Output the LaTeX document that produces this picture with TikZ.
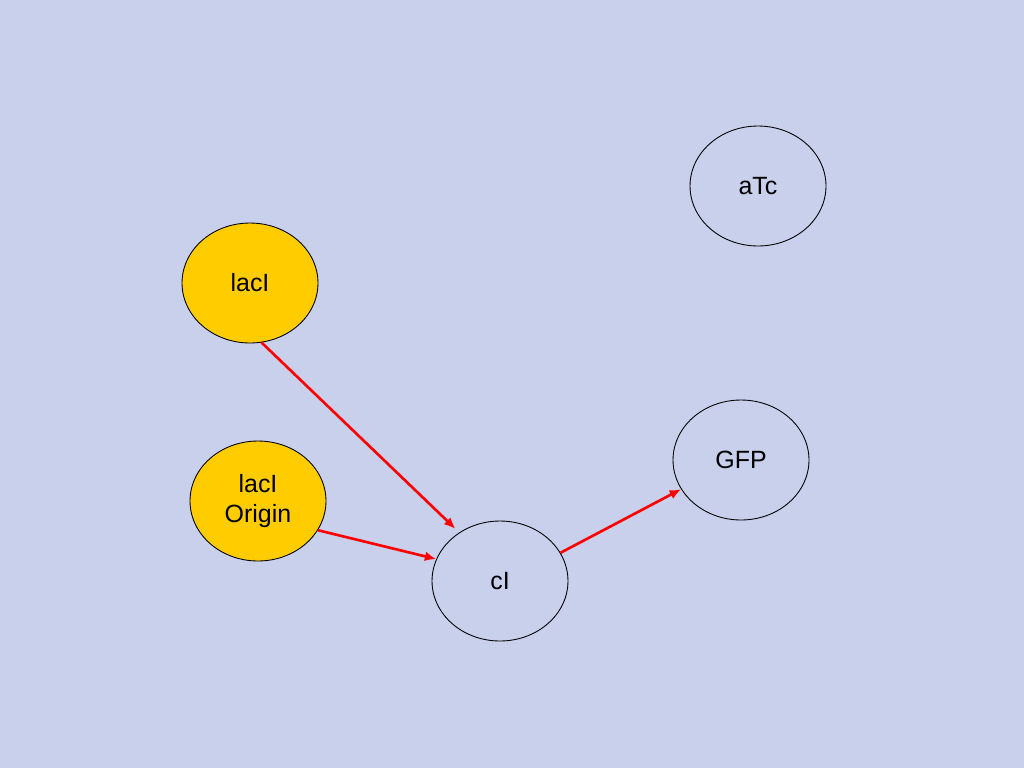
\documentclass[tikz,border=0pt]{standalone}
\usepackage{fontspec}
\setmainfont{Liberation Sans}
\usetikzlibrary{shapes.geometric}
\usetikzlibrary{arrows.meta}
\definecolor{slidebg}{RGB}{200,208,235}
\definecolor{gold}{RGB}{255,204,0}

\begin{document}
\begin{tikzpicture}[x=0.02cm,y=-0.02cm,
  gene/.style={ellipse,draw=black,line width=0.5pt,minimum width=2.72cm,minimum height=2.4cm,inner sep=0pt,align=center,font=\fontsize{14.2}{17.2}\selectfont},
  input/.style={gene,fill=gold},
  act/.style={draw=red,line width=1.5pt,-{Latex[length=6.5pt,width=5.5pt]}}]
  \fill [slidebg] (0,0) rectangle (1024,768);
  \node [gene] (atc) at (758,186) {aTc};
  \node [input] (laci) at (250,283) {lacI};
  \node [input] (laciorig) at (258,501) {lacI\\Origin};
  \node [gene] (gfp) at (741,460) {GFP};
  \node [gene] (ci) at (500,581) {cI};
  \draw [act,shorten >=3pt] (laci.-79) -- (ci.130);
  \draw [act] (laciorig.-26) -- (ci.161);
  \draw [act] (ci.25) -- (gfp.206);
\end{tikzpicture}
\end{document}
